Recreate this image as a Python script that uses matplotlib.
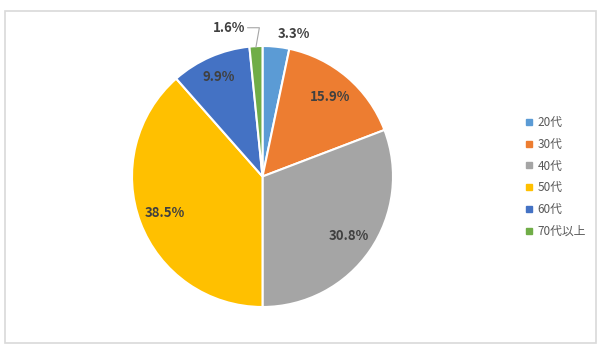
import numpy as np
import matplotlib.pyplot as plt
from matplotlib.patches import Rectangle
from matplotlib.lines import Line2D

plt.rcParams['font.family'] = ['Noto Sans CJK JP', 'DejaVu Sans']

# data
ages = ['20代', '30代', '40代', '50代', '60代', '70代以上']
shares = [3.3, 15.9, 30.8, 38.5, 9.9, 1.6]
colors = ['#5B9BD5', '#ED7D31', '#A5A5A5', '#FFC000', '#4472C4', '#70AD47']
label_dist = [1.10, 0.80, 0.80, 0.80, 0.83, 1.17]

fig = plt.figure(figsize=(6, 3.53), dpi=100)

# outer chart border
fig.patches.append(Rectangle((5 / 600, 10 / 353), 591 / 600, 332 / 353,
                             transform=fig.transFigure, fill=False,
                             edgecolor='#D9D9D9', linewidth=1.2))

ax = fig.add_axes([132 / 600, 46 / 353, 261 / 600, 261 / 353])
wedges, _ = ax.pie(shares, colors=colors, startangle=90, counterclock=False,
                   radius=1, wedgeprops=dict(edgecolor='white', linewidth=1.5))
ax.set_xlim(-1, 1)
ax.set_ylim(-1, 1)
ax.set_aspect('equal')

# percentage labels
cum = np.cumsum([0] + shares[:-1])
for i, (w, s) in enumerate(zip(wedges, shares)):
    mid = np.deg2rad(90 - (cum[i] + s / 2) * 3.6)
    txt = f'{s}%'
    if i == len(shares) - 1:
        # small slice: label outside with a leader line
        tx, ty = -0.26, 1.14
        ax.annotate(txt, xy=(0.02 * np.cos(mid) + np.cos(mid) * 0.99, np.sin(mid) * 0.99),
                    xytext=(tx, ty), ha='center', va='center', fontsize=9.5,
                    fontweight='bold', color='#404040',
                    arrowprops=dict(arrowstyle='-', color='#A6A6A6', lw=0.8,
                                    shrinkA=0, shrinkB=0,
                                    connectionstyle='angle,angleA=0,angleB=80,rad=0',
                                    relpos=(1.0, 0.5)))
    else:
        r = label_dist[i]
        ax.text(r * np.cos(mid) + (0.13 if i == 0 else 0), r * np.sin(mid), txt,
                ha='center', va='center', fontsize=9.5, fontweight='bold',
                color='#404040')

handles = [Line2D([], [], marker='s', linestyle='none', markersize=5,
                  markerfacecolor=c, markeredgecolor=c) for c in colors]
fig.legend(handles, ages, loc='center left', bbox_to_anchor=(515 / 600, 1 - 177 / 353),
           frameon=False, fontsize=8.5, labelcolor='#595959', handlelength=0.6,
           handletextpad=0.4, labelspacing=0.75)

fig.savefig('out.png', dpi=100)
